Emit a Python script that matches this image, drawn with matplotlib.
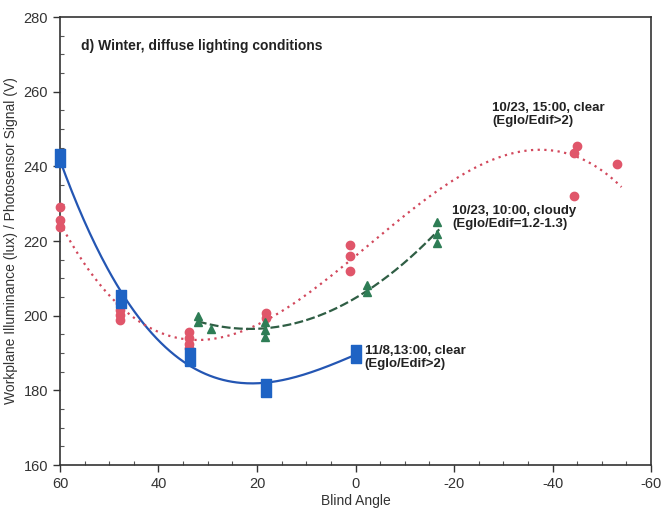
import numpy as np
import matplotlib
matplotlib.use("Agg")
import matplotlib.pyplot as plt
from matplotlib.ticker import MultipleLocator

plt.rcParams['font.family'] = ['Liberation Sans', 'DejaVu Sans']
plt.rcParams['axes.unicode_minus'] = False

# ---- data ----
blue_x = [60, 47.6, 33.6, 18.2, 0]
blue_y = [242.2, 204.5, 189.0, 180.7, 189.8]

red_x = [60, 60, 60, 47.8, 47.8, 47.8, 47.8, 33.8, 33.8, 33.8, 33.8, 18.2, 18.2,
         1.2, 1.2, 1.2, -45.0, -44.3, -44.3, -53.1]
red_y = [229.1, 225.6, 223.8, 203.4, 201.5, 200.2, 198.8, 195.6, 194.0, 192.5, 191.3,
         200.7, 199.3, 218.9, 216.0, 212.0, 245.5, 243.6, 232.1, 240.6]

green_x = [32.0, 32.0, 29.3, 18.3, 18.3, 18.3, -2.3, -2.3, -16.5, -16.5, -16.5]
green_y = [200.0, 198.4, 196.5, 198.3, 196.2, 194.3, 208.2, 206.4, 225.1, 222.0, 219.6]

blue_label = "11/8,13:00, clear\n(Eglo/Edif>2)"
red_label = "10/23, 15:00, clear\n(Eglo/Edif>2)"
green_label = "10/23, 10:00, cloudy\n(Eglo/Edif=1.2-1.3)"
title_text = "d) Winter, diffuse lighting conditions"

c_blue = "#1e63c4"
c_blue_line = "#2456b3"
c_red = "#e0566a"
c_red_line = "#d2485c"
c_green = "#2e7d55"
c_green_line = "#2f5e44"

fig = plt.figure(figsize=(6.65, 5.08), dpi=100)
ax = fig.add_axes([0.0902, 0.0846, 0.8888, 0.8819])

# trend lines fitted to the data
bx = np.linspace(60, 0, 200)
bp = np.polyfit(blue_x, blue_y, 3)
ax.plot(bx, np.polyval(bp, bx), color=c_blue_line, lw=1.6, zorder=2)

rx = np.linspace(60, -54, 300)
rp = np.polyfit(red_x, red_y, 3)
ax.plot(rx, np.polyval(rp, rx), color=c_red_line, lw=1.6, ls=(0, (1, 2)), zorder=2)

gx = np.linspace(32, -17, 200)
gp = np.polyfit(green_x, green_y, 2)
ax.plot(gx, np.polyval(gp, gx), color=c_green_line, lw=1.6, ls=(0, (4, 1.5)), zorder=2)

rect_marker = [(-0.5, -1), (0.5, -1), (0.5, 1), (-0.5, 1), (-0.5, -1)]

ax.plot(red_x, red_y, 'o', color=c_red, ms=6, mec=c_red, zorder=3, clip_on=False)
ax.plot(green_x, green_y, '^', color=c_green, ms=6, mec=c_green, zorder=3, clip_on=False)
ax.plot(blue_x, blue_y, linestyle='none', marker=rect_marker, color=c_blue, ms=13,
        mec=c_blue, zorder=4, clip_on=False)

ax.set_xlim(60, -60)
ax.set_ylim(160, 280)
ax.xaxis.set_major_locator(MultipleLocator(20))
ax.xaxis.set_minor_locator(MultipleLocator(5))
ax.yaxis.set_major_locator(MultipleLocator(20))
ax.yaxis.set_minor_locator(MultipleLocator(5))
ax.tick_params(which='major', direction='out', length=5, width=1, labelsize=10.5, colors='#333333')
ax.tick_params(which='minor', direction='in', length=3, width=0.8, colors='#555555')
for s in ax.spines.values():
    s.set_linewidth(1.2)
    s.set_color('#333333')

ax.set_xlabel("Blind Angle", fontsize=10, color='#333333', labelpad=2)
ax.set_ylabel("Workplane Illuminance (lux) / Photosensor Signal (V)", fontsize=10, color='#333333', labelpad=4)

ax.text(0.035, 0.95, title_text, transform=ax.transAxes, fontsize=10, fontweight='bold',
        color='#222222', va='top', ha='left')
ax.text(-1.9, 188.7, blue_label, fontsize=9.5, fontweight='bold', color='#222222', va='center', ha='left', linespacing=1.1)
ax.text(-27.7, 253.8, red_label, fontsize=9.5, fontweight='bold', color='#222222', va='center', ha='left', linespacing=1.1)
ax.text(-19.6, 226.2, green_label, fontsize=9.5, fontweight='bold', color='#222222', va='center', ha='left', linespacing=1.1)

fig.savefig("out.png", dpi=100)
